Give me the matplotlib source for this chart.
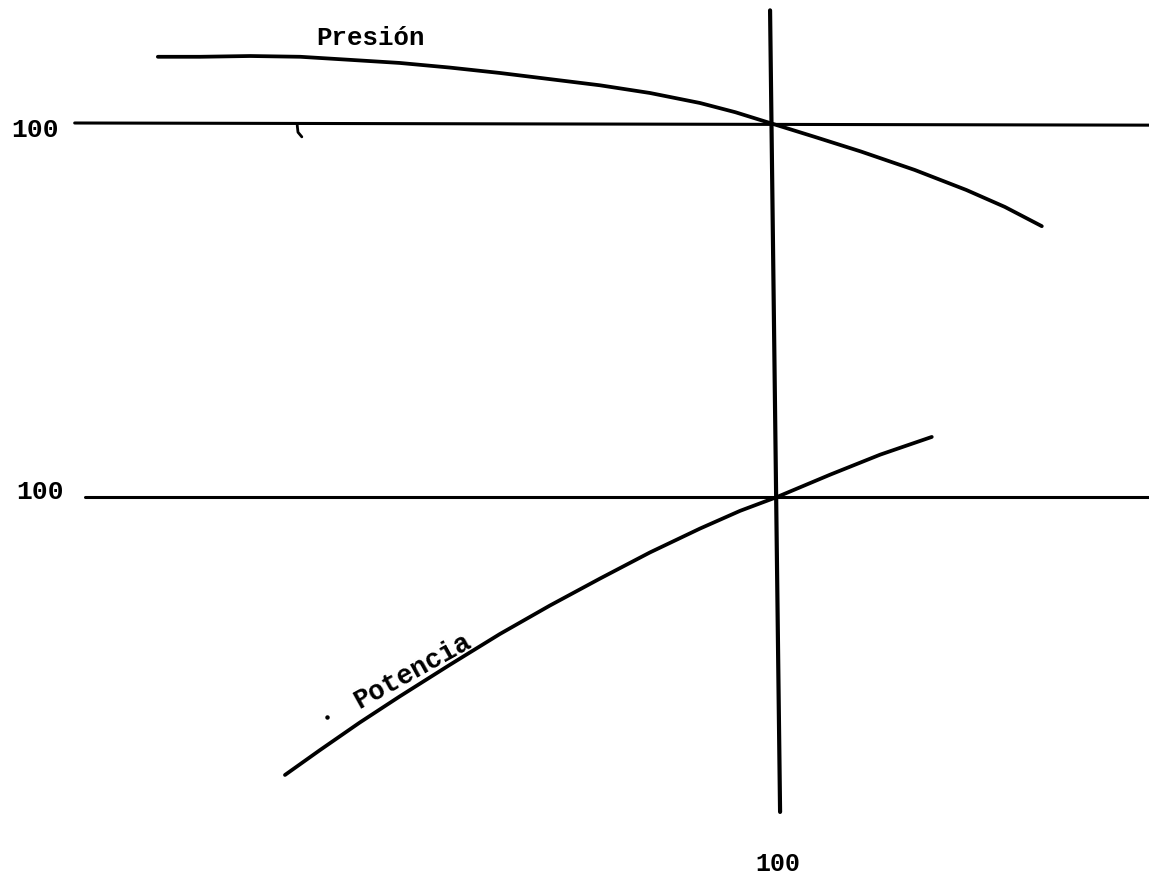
import numpy as np
import matplotlib.pyplot as plt

# curva de presion (x = caudal %, y = presion %)
pres_x = [20.5, 26.0, 32.5, 39.0, 45.5, 51.9, 58.4, 64.9, 71.4, 77.9, 84.4, 90.9, 95.5,
          100.0, 105.8, 111.8, 118.8, 125.5, 130.5, 135.3]
pres_y = [108.6, 108.6, 108.7, 108.6, 108.2, 107.8, 107.2, 106.5, 105.7, 104.9, 103.9, 102.6, 101.4,
          100.0, 98.2, 96.3, 93.9, 91.3, 89.1, 86.6]

# curva de potencia
pot_x = [36.1, 40.6, 45.8, 51.0, 57.5, 64.0, 70.5, 77.0, 83.5, 90.0, 95.2,
         100.0, 106.9, 113.4, 116.6, 120.1]
pot_y = [63.9, 67.1, 70.7, 74.1, 78.2, 82.2, 85.9, 89.4, 92.8, 95.9, 98.2,
         100.0, 102.9, 105.5, 106.6, 107.8]

ref = 100
ref_label = "100"

W, H = 1149, 877
scale = 7.7  # px per unit

fig = plt.figure(figsize=(W / 100, H / 100), dpi=100)
fig.patch.set_facecolor('white')


def make_axes(px100, py100):
    ax = fig.add_axes([0, 0, 1, 1])
    ax.patch.set_alpha(0)
    ax.set_xlim(ref - px100 / scale, ref + (W - px100) / scale)
    ax.set_ylim(ref - (H - py100) / scale, ref + py100 / scale)
    ax.axis('off')
    return ax


ax1 = make_axes(770, 123)
ax2 = make_axes(777, 497)

lw = 2.7
style = dict(color='black', solid_capstyle='round', solid_joinstyle='round')
font = dict(family=['Liberation Mono', 'DejaVu Sans Mono'], weight='bold', color='black')

# presion
ax1.plot([9.7, 160], [ref, ref - 0.3], lw=2.2, **style)
ax1.plot(pres_x, pres_y, lw=lw, **style)
ax1.plot([38.6, 38.7, 39.2], [99.7, 98.8, 98.2], lw=2.0, **style)
ax1.text(48.1, 111.0, "Presión", ha='center', va='center', fontsize=18.5, **font)
ax1.text(4.5, 99.1, ref_label, ha='center', va='center', fontsize=19, **font)

# potencia
ax2.plot([10.1, 160], [ref, ref], lw=2.2, **style)
ax2.plot(pot_x, pot_y, lw=lw, **style)
ax2.plot([99.1, 100.4], [163.2, 59.1], lw=3.0, **style)
ax2.plot([41.6], [71.4], marker='o', ms=2.2, color='black')
ax2.text(52.7, 77.4, "Potencia", ha='center', va='center', rotation=29,
         rotation_mode='anchor', fontsize=19.5, **font)
ax2.text(4.3, 100.6, ref_label, ha='center', va='center', fontsize=19, **font)
ax2.text(100.1, 52.4, ref_label, ha='center', va='center', fontsize=18, **font)

fig.savefig('out.png', dpi=100, facecolor='white')
